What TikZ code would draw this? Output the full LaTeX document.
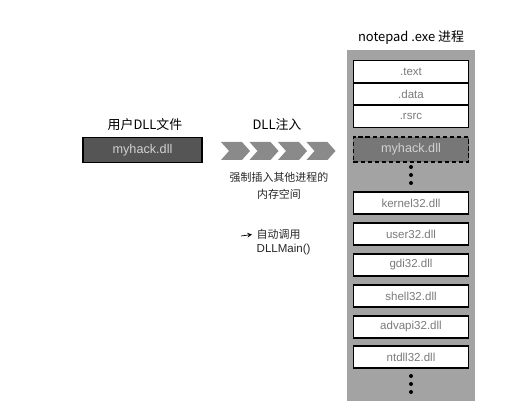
\documentclass[tikz,border=0pt]{standalone}
\usepackage{fontspec}
\setmainfont{Liberation Sans}
\newfontfamily\cjk{Noto Sans CJK SC}
\definecolor{procgray}{HTML}{A3A3A3}
\definecolor{dllgray}{HTML}{555555}
\definecolor{labelgray}{HTML}{7A7A7A}
\begin{document}
\begin{tikzpicture}[x=0.025cm, y=-0.025cm,
  every path/.style={line width=1pt},
  heading/.style={font=\cjk\fontsize{9.2}{11}\selectfont, text=black, inner sep=0pt},
  note/.style={font=\cjk\fontsize{7.8}{12}\selectfont, text=black!85, inner sep=0pt, align=center},
  section/.style={draw, fill=white, minimum width=2.875cm, minimum height=0.55cm, inner sep=0pt, font=\fontsize{8.2}{10}\selectfont, text=labelgray},
  dllbox/.style={draw, fill=dllgray, minimum width=2.975cm, minimum height=0.63cm, inner sep=0pt, font=\fontsize{9}{10}\selectfont, text=white!82!black},
  dot/.style={circle, fill=black, inner sep=0pt, minimum size=0.1cm}]
\useasboundingbox (0,0) rectangle (529,412);

% user dll on the left
\node[heading] (userlabel) at (145,125) {用户DLL文件};
\node[dllbox] (userdll) at (142.5,150) {myhack.dll};

% injection arrows
\node[heading] (injectlabel) at (277,125) {DLL注入};
\foreach \i in {0,1,2,3}
  \fill[procgray!85!black] ({221+28.5*\i},142) -- ({242+28.5*\i},142) -- ({250+28.5*\i},151)
    -- ({242+28.5*\i},160) -- ({221+28.5*\i},160) -- ({229+28.5*\i},151) -- cycle;
\node[note] (forcenote) at (279,185.5) {强制插入其他进程的\\内存空间};

\node[note, anchor=west, align=left] (callline1) at (256,234) {自动调用};
\node[note, anchor=west, align=left, font=\fontsize{8.2}{10}\selectfont] (callline2) at (256,250) {DLLMain()};
\coordinate (callstart) at (241,236);
\draw[->, line width=0.5pt, >=stealth, shorten >=0.1cm] (callstart) -- (callline1.west);

% notepad.exe process
\node[heading] (proclabel) at (411,38) {notepad .exe 进程};
\node[fill=procgray, minimum width=3.2cm, minimum height=8.75cm, inner sep=0pt] (proc) at (411,225.5) {};

\node[section] (text) at (411,71.5) {.text};
\node[section] (data) at (411,94) {.data};
\node[section] (rsrc) at (411,116.5) {.rsrc};
\node[dllbox, minimum width=2.875cm, densely dashed, fill=dllgray!80!white] (injdll) at (411,149.5) {myhack.dll};

\node[dot] (dotA1) at (411,167) {};
\node[dot] (dotA2) at (411,175) {};
\node[dot] (dotA3) at (411,183) {};

\node[section] (kernel) at (411,203) {kernel32.dll};
\node[section] (user) at (411,234) {user32.dll};
\node[section] (gdi) at (411,265) {gdi32.dll};
\node[section] (shell) at (411,296) {shell32.dll};
\node[section] (advapi) at (411,327) {advapi32.dll};
\node[section] (ntdll) at (411,357) {ntdll32.dll};

\node[dot] (dotB1) at (411,376) {};
\node[dot] (dotB2) at (411,384) {};
\node[dot] (dotB3) at (411,392) {};

\end{tikzpicture}
\end{document}
